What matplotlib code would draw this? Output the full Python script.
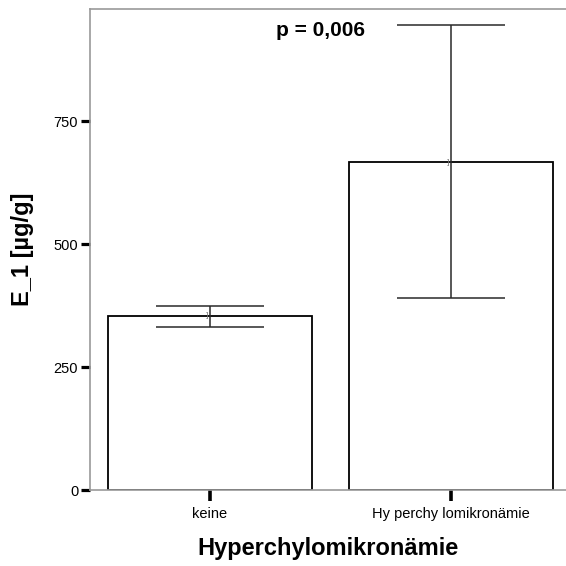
import matplotlib
matplotlib.use("Agg")
import matplotlib.pyplot as plt
import numpy as np

categories = ["keine", "Hy perchy lomikronämie"]
means = [354, 666]
err_low = [332, 390]
err_high = [374, 945]
yticks = [0, 250, 500, 750]
p_text = "p = 0,006"

plt.rcParams['font.family'] = ['Liberation Sans', 'DejaVu Sans']

fig = plt.figure(figsize=(5.66, 5.66), dpi=100)
ax = fig.add_axes([90/566, 76/566, 476/566, 481/566])

x = np.arange(len(categories))
ax.bar(x, means, width=0.846, color='white', edgecolor='black', linewidth=1.3, zorder=2)
yerr = np.array([np.array(means) - np.array(err_low), np.array(err_high) - np.array(means)])
ax.errorbar(x, means, yerr=yerr, fmt='none', ecolor='#2a2a2a', elinewidth=1.1,
            capsize=39, capthick=1.1, zorder=3)
for xi, m in zip(x, means):
    ax.text(xi - 0.012, m, "]", fontsize=6, color='#777777', ha='center', va='center', zorder=4)

ax.set_xlim(-0.498, 1.477)
ax.set_ylim(0, 978)
ax.set_xticks(x)
ax.set_xticklabels(categories, fontsize=10.5)
ax.set_yticks(yticks)
ax.set_yticklabels([str(v) for v in yticks], fontsize=10.5)
ax.tick_params(axis='y', direction='out', length=6.5, width=2.3, color='black', pad=2)
ax.tick_params(axis='x', direction='out', length=8, width=2.6, color='black', pad=4)

for s in ['top', 'left', 'bottom']:
    ax.spines[s].set_color('#999999')
    ax.spines[s].set_linewidth(1.2)
ax.spines['right'].set_visible(False)

ax.set_ylabel("E_1 [µg/g]", fontsize=17, fontweight='bold', labelpad=14)
ax.set_xlabel("Hyperchylomikronämie", fontsize=17, fontweight='bold', labelpad=12)
fig.text(321/566, 1 - 31/566, p_text, fontsize=15, fontweight='bold', ha='center', va='center')

fig.savefig("out.png", dpi=100)
